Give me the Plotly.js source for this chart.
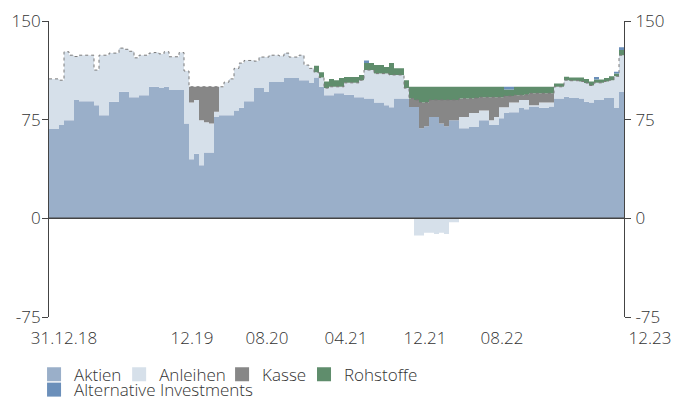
<!DOCTYPE html>
<html>
<head>
<meta charset="utf-8">
<script src="https://cdn.plot.ly/plotly-3.0.1.min.js"></script>
<style>html,body{margin:0;padding:0;background:#fff}#chart{width:687px;height:401px}</style>
</head>
<body>
<div id="chart"></div>
<script>
// Series values (percent), one value per observation step
const aktien = [68,68,71,74.6,74.6,90,89,89,89,86,
  78.4,78.4,88.6,88.6,96.2,96.2,92,92,93.6,93.6,
  100,100,99,100,97.5,97.5,97.5,72,45,49,
  40.4,50,50,77,78.4,78.4,78.4,82,84,89,
  89,99,99,96,103.6,103.6,103.6,106.6,106.6,106.6,
  105,105,102.8,107,100,93.6,93.6,95,95,94,
  94,92,92,91,91,88,88,86,84.5,91,
  91,91,84.7,84.7,68.5,70,77,77,72,70,
  74.6,74.6,68.5,68.5,69.5,69.5,74.6,74.6,71,71,
  76,80,80.7,80.7,83.8,83,85,85,84,84,
  85,91,91,92.5,91.5,91.5,91,88.6,88,90,
  90,91.4,91.4,83.8,96,95];
const anleihen = [38,38,34,52,49.4,33,35,35,35,26.7,
  45.6,45.6,37,37,33.2,32.3,35,30,30.4,30.4,
  25.6,26,26,26.6,25.3,25.3,28.5,40,43,41,
  34.2,23,22,4,21.6,25.1,27.6,32,34,31,
  31,20.5,23.6,26.6,20.4,20.4,19.9,19,16,16,
  19,11.5,11.2,4,7,5.4,6.4,5,5,9,
  9,11,13,21.7,21.7,22,22,24,24.5,18,
  18,8,0,-13,-13,-11,-11,-12,-11,-12,
  -3,-3,8.5,8.5,10.5,10.5,7.4,7.4,3.6,6,
  8.5,4.5,7.3,7.3,6.2,7,1,1,4,4,
  3,9,9,12.5,13.1,13.1,13,14.2,13,13,
  13,12.6,13.6,24.2,28,29];
const kasse = [0,0,0,0,0,0,0,0,0,0,
  0,0,0,0,0,0,0,0,0,0,
  0,0,0,0,0,0,0,0,12,10,
  25.4,27,28,19,0,0,0,0,0,0,
  0,0,0,0,0,0,0,0,0,0,
  0,0,0,0,0,0,0,0,0,0,
  0,0,0,0,0,0,0,0,0,0,
  0,0,6.3,5.3,19.5,18,13,13,18,20,
  15.4,15.4,14,14,11,11.4,10,10,17.4,15,
  7.5,8.5,5,5.6,3.6,4,9,9,7,7,
  7,0,0,0,0,0,0,0,0,0,
  0,0,0,0,0,0];
const rohstoffe = [0,0,0,0,0,0,0,0,0,0,
  0,0,0,0,0,0,0,0,0,0,
  0,0,0,0,0,0,0,0,0,0,
  0,0,0,0,0,0,0,0,0,0,
  0,0,0,0,0,0,0,0,0,0,
  0,0,0,5,4,5,6,5,6.6,4.5,
  4.5,4.5,4,5.3,5.3,6.5,6.5,5,9,5,
  5,6,9,10,12,12,10,10,10,10,
  10,10,9,9,9,8.6,8,8,8,8,
  8,5,5,6.4,6.4,6,5,5,5,5,
  5,2.5,2.5,2.6,2.4,2.4,3,3.2,3,2.5,
  2.5,2.6,3,2,4,4];
const alternative = [0,0,0,0,0,0,0,0,0,0,
  0,0,0,0,0,0,0,0,0,0,
  0,0,0,0,0,0,0,0,0,0,
  0,0,0,0,0,0,0,0,0,0,
  0,0,0,0,0,0,0,0,0,0,
  0,0,0,0,0,0,0,0,0,0,
  0,0,0,2,0,0,0,0,0,0,
  0,0,0,0,0,0,0,0,0,0,
  0,0,0,0,0,0,0,0,0,0,
  0,2,2,0,0,0,0,0,0,0,
  0,0,0,0,0,0,0,0,0,2,
  0,0,0,1.5,2,0];

const seriesNames = ['Aktien','Anleihen','Kasse','Rohstoffe','Alternative Investments'];
const seriesColors = ['#9aafc9','#d6e0ea','#878787','#5f8d6c','#6b8fba'];

// x-axis labels and the step index where each label sits
const tickLabels = ['31.12.18','12.19','08.20','04.21','12.21','08.22'];
const tickIdx = [3,28.6,43.6,59.4,75.2,90.6];
const lastLabel = ['12.23'];
// y-axis ticks
const yTicks = [-75,0,75,150];
const yTickText = ['-75','0','75','150'];

const n = aktien.length;
const x = Array.from({length:n},(_,i)=>i);
const anlPos = anleihen.map(v=>Math.max(0,v));
const anlNeg = anleihen.map(v=>Math.min(0,v));

function area(y,color,extra){
  return Object.assign({type:'scatter',mode:'lines',x:x,y:y,stackgroup:'pos',
    line:{width:0,shape:'hv',color:color},fillcolor:color,showlegend:false,hoverinfo:'skip'},extra||{});
}
const traces = [
  area(aktien,seriesColors[0]),
  area(anlPos,seriesColors[1]),
  area(kasse,seriesColors[2],{line:{width:1,shape:'hv',color:'#7a7a7a',dash:'dot'}}),
  area(rohstoffe,seriesColors[3]),
  area(alternative,seriesColors[4]),
  {type:'scatter',mode:'lines',x:x,y:anlNeg,fill:'tozeroy',fillcolor:seriesColors[1],
   line:{width:0,shape:'hv'},showlegend:false,hoverinfo:'skip'}
];
// legend entries, one small legend box per entry
const legendIds = ['legend','legend2','legend3','legend4','legend5'];
seriesNames.forEach((nm,k)=>{
  traces.push({type:'scatter',mode:'markers',x:[null],y:[null],name:nm,
    marker:{symbol:'square',size:14,color:seriesColors[k]},
    legend: legendIds[k], hoverinfo:'skip'});
});
// helper traces for the secondary axes
traces.push({type:'scatter',mode:'markers',x:[null],y:[null],xaxis:'x2',yaxis:'y',showlegend:false,hoverinfo:'skip'});
traces.push({type:'scatter',mode:'markers',x:[null],y:[null],xaxis:'x',yaxis:'y2',showlegend:false,hoverinfo:'skip'});

const tickFont = {family:'"Open Sans", sans-serif', size:17, color:'#333', weight:300};
const yCommon = {range:[-75,150], tickvals:yTicks, ticktext:yTickText, ticks:'outside', ticklen:6,
  tickcolor:'#444', showline:true, linecolor:'#444', linewidth:1, zeroline:false,
  tickfont:tickFont, fixedrange:true};

const legendFont = {family:'"Open Sans", sans-serif', size:17, color:'#333', weight:300};
function leg(xp, yp){
  return {orientation:'h', x:xp, xanchor:'left', y:yp, yanchor:'top',
    font:legendFont, itemwidth:30, bgcolor:'rgba(0,0,0,0)'};
}

const layout = {
  width:687, height:401,
  margin:{l:49, r:63, t:21, b:84, autoexpand:false},
  paper_bgcolor:'#fff', plot_bgcolor:'#fff',
  font:tickFont,
  xaxis:{range:[0,n-1], tickvals:tickIdx, ticktext:tickLabels, ticks:'outside', ticklen:6,
    tickcolor:'rgba(0,0,0,0)', showgrid:false, zeroline:false, showline:false, tickfont:tickFont},
  xaxis2:{range:[0,n-1], overlaying:'x', anchor:'y', side:'bottom', tickvals:[n-1], ticktext:lastLabel,
    ticks:'outside', ticklen:6, tickcolor:'rgba(0,0,0,0)', showgrid:false, zeroline:false, showline:false,
    ticklabelshift:26, ticklabeloverflow:'allow', tickfont:tickFont},
  yaxis:Object.assign({}, yCommon, {showgrid:true, gridcolor:'#d4d4d4', gridwidth:1, ticklabelstandoff:-2}),
  yaxis2:Object.assign({}, yCommon, {overlaying:'y', side:'right', anchor:'x', showgrid:false, ticklabelstandoff:1}),
  shapes:[{type:'line', xref:'paper', x0:0, x1:1, yref:'y', y0:0, y1:0,
    line:{color:'#444', width:1.5}, layer:'above'}],
  legend: leg(-0.026, -0.134),
  legend2: leg(0.122, -0.134),
  legend3: leg(0.301, -0.134),
  legend4: leg(0.4435, -0.134),
  legend5: leg(-0.026, -0.186),
  showlegend:true
};

Plotly.newPlot('chart', traces, layout, {displayModeBar:false, staticPlot:true});
</script>
</body>
</html>
